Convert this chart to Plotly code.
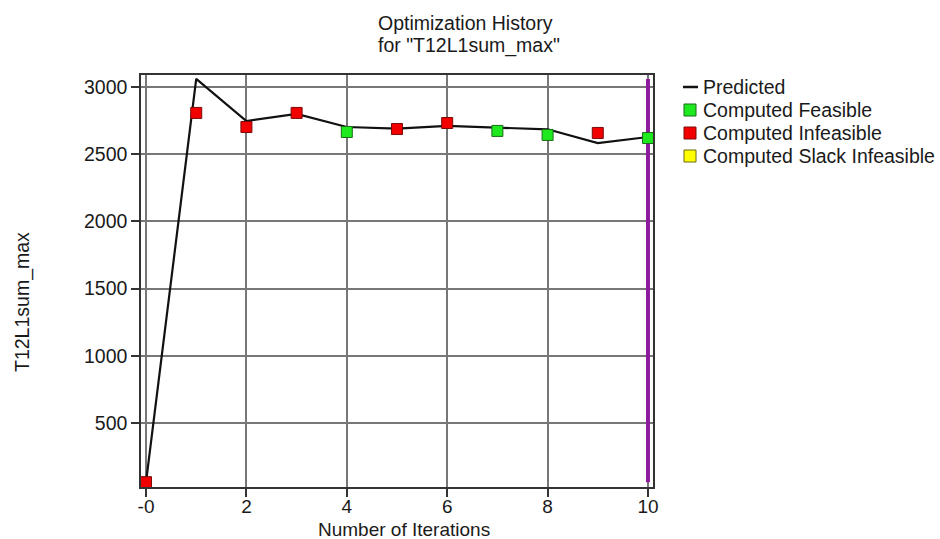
import plotly.graph_objects as go

# Data
iterations = [0, 1, 2, 3, 4, 5, 6, 7, 8, 9, 10]
predicted = [60, 3060, 2747, 2800, 2702, 2690, 2710, 2695, 2685, 2583, 2628]

feasible_x = [4, 7, 8, 10]
feasible_y = [2665, 2673, 2643, 2620]

infeasible_x = [0, 1, 2, 3, 5, 6, 9]
infeasible_y = [60, 2807, 2702, 2807, 2687, 2732, 2658]

slack_x = []
slack_y = []

current_iter = 10
x_tickvals = [0, 2, 4, 6, 8, 10]
x_ticktext = ["-0", "2", "4", "6", "8", "10"]
y_tickvals = [500, 1000, 1500, 2000, 2500, 3000]

legend_names = ["Predicted", "Computed Feasible", "Computed Infeasible", "Computed Slack Infeasible"]
legend_kinds = ["line", "square", "square", "square"]
legend_fill = ["#111111", "#1EE81E", "#F20000", "#FFFF00"]
legend_edge = ["#111111", "#1A6B1A", "#7A0A0A", "#6B6B1A"]

FONT = "Liberation Sans, Arial, sans-serif"
TXT = "#1a1a1a"
FS = 19.5
FS_X = 19

# plot area geometry (pixels)
W, H = 940, 539
L, R, T, B = 141, 653, 75, 487
PW, PH = R - L, B - T


def px(xp):
    return (xp - L) / PW


def py(yp):
    return (B - yp) / PH


fig = go.Figure()

# current iteration marker line (purple)
fig.add_trace(go.Scatter(
    x=[current_iter, current_iter], y=[min(predicted), max(predicted)],
    mode="lines", line=dict(color="#8E1B9C", width=4),
    showlegend=False, hoverinfo="skip"))

fig.add_trace(go.Scatter(
    x=iterations, y=predicted, mode="lines", name=legend_names[0],
    line=dict(color=legend_fill[0], width=2.2), showlegend=False))

fig.add_trace(go.Scatter(
    x=feasible_x, y=feasible_y, mode="markers", name=legend_names[1],
    marker=dict(symbol="square", size=11, color=legend_fill[1],
                line=dict(color=legend_edge[1], width=1)), showlegend=False))

fig.add_trace(go.Scatter(
    x=infeasible_x, y=infeasible_y, mode="markers", name=legend_names[2],
    marker=dict(symbol="square", size=11, color=legend_fill[2],
                line=dict(color=legend_edge[2], width=1)), showlegend=False))

fig.add_trace(go.Scatter(
    x=slack_x if slack_x else [None], y=slack_y if slack_y else [None],
    mode="markers", name=legend_names[3],
    marker=dict(symbol="square", size=11, color=legend_fill[3],
                line=dict(color=legend_edge[3], width=1)), showlegend=False))

fig.update_layout(
    width=W, height=H,
    margin=dict(l=L, r=W - R, t=T, b=H - B, autoexpand=False),
    paper_bgcolor="white", plot_bgcolor="white",
    font=dict(family=FONT, size=FS, color=TXT),
    showlegend=False,
)

fig.update_xaxes(
    range=[-0.1, 10.1], tickmode="array", tickvals=x_tickvals, ticktext=x_ticktext,
    showgrid=True, gridcolor="#777777", gridwidth=1.5,
    showline=True, linecolor="#333333", linewidth=1.5, mirror=True,
    ticks="outside", ticklen=8, tickcolor="#333333", tickwidth=1.5,
    zeroline=False, automargin=False, ticklabelstandoff=-7,
    tickfont=dict(family=FONT, size=FS_X, color=TXT),
)
fig.update_yaxes(
    range=[24, 3089], tickmode="array", tickvals=y_tickvals,
    showgrid=True, gridcolor="#777777", gridwidth=1.5,
    showline=True, linecolor="#333333", linewidth=1.5, mirror=True,
    ticks="outside", ticklen=8, tickcolor="#333333", tickwidth=1.5,
    zeroline=False, automargin=False,
    tickfont=dict(family=FONT, size=FS, color=TXT),
)

# titles
fig.add_annotation(text="Optimization History", xref="paper", yref="paper",
                   x=px(376), y=py(23), xanchor="left", yanchor="middle",
                   showarrow=False, font=dict(family=FONT, size=FS, color=TXT))
fig.add_annotation(text='for "T12L1sum_max"', xref="paper", yref="paper",
                   x=px(376), y=py(45), xanchor="left", yanchor="middle",
                   showarrow=False, font=dict(family=FONT, size=FS, color=TXT))
fig.add_annotation(text="Number of Iterations", xref="paper", yref="paper",
                   x=px(404), y=py(529), xanchor="center", yanchor="middle",
                   showarrow=False, font=dict(family=FONT, size=FS_X, color=TXT))
fig.add_annotation(text="T12L1sum_max", textangle=-90, xref="paper", yref="paper",
                   x=px(22), y=py(302), xanchor="center", yanchor="middle",
                   showarrow=False, font=dict(family=FONT, size=FS, color=TXT))

# legend (drawn manually to match spacing)
leg_y = [87, 110, 133, 156]
for name, kind, fill, edge, yy in zip(legend_names, legend_kinds, legend_fill, legend_edge, leg_y):
    if kind == "line":
        fig.add_shape(type="line", xref="paper", yref="paper",
                      x0=px(683), x1=px(698), y0=py(yy), y1=py(yy),
                      line=dict(color=fill, width=2.5))
    else:
        fig.add_shape(type="rect", xref="paper", yref="paper",
                      x0=px(684), x1=px(696), y0=py(yy - 6), y1=py(yy + 6),
                      fillcolor=fill, line=dict(color=edge, width=1))
    fig.add_annotation(text=name, xref="paper", yref="paper",
                       x=px(701), y=py(yy), xanchor="left", yanchor="middle",
                       showarrow=False, font=dict(family=FONT, size=FS, color=TXT))

fig.write_html("out.html")
